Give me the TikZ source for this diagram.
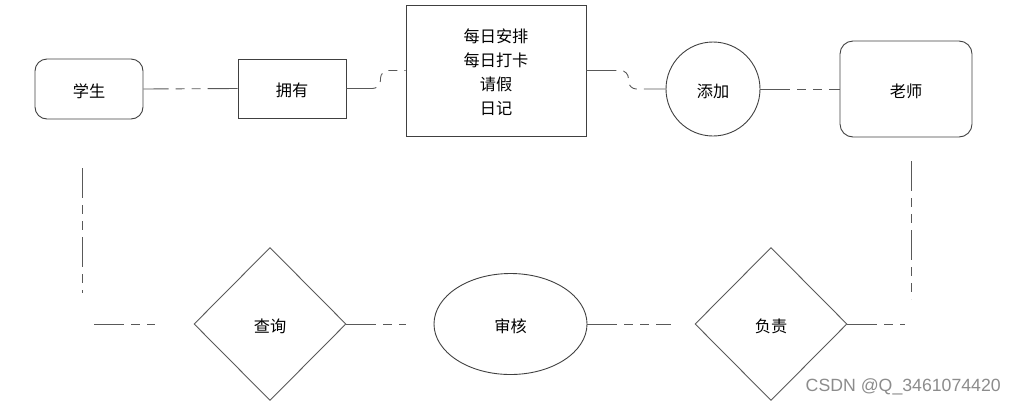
\documentclass[tikz,border=0pt]{standalone}
\usepackage{fontspec}
\setmainfont{Noto Sans CJK SC}
\newfontfamily\wmfont{Liberation Sans}
\usetikzlibrary{shapes.geometric}
\newcommand\lw[1]{\raisebox{-2pt}[\height][\depth]{#1}}
\tikzset{
  shapeline/.style={draw=black!75, line width=0.9pt, inner sep=0pt, font=\fontsize{16.2}{24}\selectfont},
  rbox/.style={shapeline, rectangle, rounded corners=12pt},
  sbox/.style={shapeline, rectangle},
  dia/.style={shapeline, diamond, draw=black!65, minimum width=152pt, minimum height=153pt},
  conn/.style={draw=black!65, line width=0.9pt, dash pattern=on 30pt off 7pt on 9pt off 7pt on 9pt off 7pt},
}
\begin{document}
\begin{tikzpicture}[x=1pt,y=-1pt]
\useasboundingbox (0,0) rectangle (1016,405);
% nodes
\node[rbox, minimum width=108pt, minimum height=60pt] (xs) at (89,89) {\lw{学生}};
\node[sbox, minimum width=108pt, minimum height=59pt] (yy) at (292,88.5) {\lw{拥有}};
\node[sbox, minimum width=180pt, minimum height=131pt, align=center] (box) at (496,70.5) {\lw{每日安排}\\\lw{每日打卡}\\\lw{请假}\\\lw{日记}};
\node[shapeline, circle, minimum size=94pt] (tj) at (713,89) {\lw{添加}};
\node[rbox, rounded corners=13pt, minimum width=132pt, minimum height=96pt] (ls) at (906,89) {\lw{老师}};
\node[dia] (cx) at (270,324) {\lw{查询}};
\node[shapeline, ellipse, minimum width=153pt, minimum height=101pt] (sh) at (510.5,324) {\lw{审核}};
\node[dia] (fz) at (771,324) {\lw{负责}};
% free ends
\coordinate (lv1) at (82,168);
\coordinate (lv2) at (82,293);
\coordinate (lh1) at (94,324);
\coordinate (lh2) at (155,324);
\coordinate (cxe) at (406,324);
\coordinate (she) at (671,324);
\coordinate (fze) at (905,324);
\coordinate (rv1) at (911,161);
\coordinate (rv2) at (911,299);
% connectors
\draw[conn] (yy.west) -- (xs.east);
\draw[conn, rounded corners=8pt] (yy.east) -- ++(34,0) |- (box.west);
\draw[conn, rounded corners=8pt] (box.east) -- ++(42,0) |- (tj.west);
\draw[conn] (tj.east) -- (ls.west);
\draw[conn] (lv1) -- (lv2);
\draw[conn] (lh1) -- (lh2);
\draw[conn] (cx.east) -- (cxe);
\draw[conn] (sh.east) -- (she);
\draw[conn] (fz.east) -- (fze);
\draw[conn] (rv1) -- (rv2);
% watermark
\node[font=\wmfont\fontsize{17.7}{20}\selectfont, text=black!45, anchor=east, inner sep=0pt] (wm) at (1001,386.5) {CSDN @Q\_3461074420};
\end{tikzpicture}
\end{document}
